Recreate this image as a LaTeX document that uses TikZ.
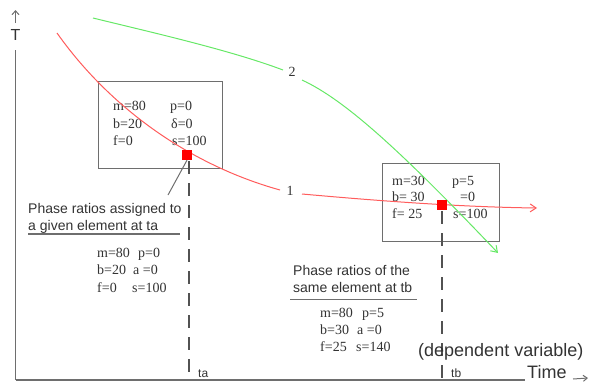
\documentclass[tikz,border=0pt]{standalone}
\usepackage{fontspec}
\setmainfont{Liberation Serif}
\setsansfont{Liberation Sans}
\usetikzlibrary{arrows.meta}
\definecolor{ax}{HTML}{6E6E6E}
\definecolor{txt}{HTML}{333333}
\definecolor{rc}{HTML}{FF5C5C}
\definecolor{gc}{HTML}{66E866}
\tikzset{
  ser/.style={font=\fontsize{14}{17}\selectfont, text=txt, inner sep=0pt, anchor=base west},
  san/.style={font=\sffamily\fontsize{14}{17}\selectfont, text=txt, inner sep=0pt, anchor=base west},
  sanbig/.style={font=\sffamily\fontsize{18}{21}\selectfont, text=txt, inner sep=0pt, anchor=base west},
  sansmall/.style={font=\sffamily\fontsize{12}{14}\selectfont, text=txt, inner sep=0pt, anchor=base west},
  framebox/.style={draw=ax, line width=1.3pt, inner sep=0pt, anchor=north west},
  sq/.style={fill=red, minimum size=10pt, inner sep=0pt},
  dashline/.style={draw=txt!85!white, line width=1.6pt, dash pattern=on 13pt off 9pt},
  axisline/.style={draw=ax, line width=2pt},
  curvered/.style={draw=rc, line width=1pt},
  curvegreen/.style={draw=gc, line width=1pt},
  openarrow/.style={-{Straight Barb[length=6pt,width=8pt]}},
}
\begin{document}
\begin{tikzpicture}[x=1pt,y=-1pt]
\useasboundingbox (0,0) rectangle (589,383);
% axes
\coordinate (o) at (15.5,380);
\coordinate (ytop) at (15.5,50);
\coordinate (xend) at (525,380);
\draw[axisline, line width=1.5pt] (o) -- (ytop);
\draw[axisline] (o) -- (xend);
\node[font=\sffamily\fontsize{16}{18}\selectfont, text=txt, inner sep=0pt] (tlab) at (15.5,35) {T};
\coordinate (ya1) at (15.5,23);
\coordinate (ya2) at (15.5,10);
\draw[ax, line width=1pt, -{Straight Barb[length=4pt,width=7pt]}] (ya1) -- (ya2);
\node[sanbig, text depth=0pt] (time) at (527,378) {Time};
\coordinate (xa1) at (573,379);
\coordinate (xa2) at (588,378);
\draw[ax, line width=1pt, -{Straight Barb[length=4pt,width=6pt]}] (xa1) -- (xa2);
% boxes
\node[framebox, minimum width=124pt, minimum height=87pt] (box1) at (98,81) {};
\node[framebox, minimum width=117pt, minimum height=78pt] (box2) at (382,163) {};
% box 1 text
\node[ser] (b1m) at (113,110) {m=80};
\node[ser] (b1p) at (170,110) {p=0};
\node[ser] (b1b) at (113,128) {b=20};
\node[ser] (b1d) at (171,128) {δ=0};
\node[ser] (b1f) at (113,145) {f=0};
\node[ser] (b1s) at (172,145) {s=100};
% box 2 text
\node[ser] (b2m) at (392,185) {m=30};
\node[ser] (b2p) at (452,185) {p=5};
\node[ser] (b2b) at (392,201.5) {b= 30};
\node[ser] (b2d) at (460,201.5) {=0};
\node[ser] (b2f) at (392,218) {f= 25};
\node[ser] (b2s) at (453,218) {s=100};
% curve 1 (red)
\coordinate (r0) at (57,33);
\coordinate (r1) at (280,190);
\coordinate (r2) at (302,194);
\coordinate (r3) at (537,208);
\draw[curvered] (r0) .. controls (110,108) and (190,165) .. (r1);
\draw[curvered, openarrow] (r2) .. controls (380,201) and (460,207) .. (r3);
\node[ser, anchor=center] (lab1) at (290,191) {1};
% curve 2 (green)
\coordinate (g0) at (93,18);
\coordinate (g1) at (283,70);
\coordinate (g2) at (302,80);
\coordinate (g3) at (498,253);
\draw[curvegreen] (g0) .. controls (150,32) and (230,50) .. (g1);
\draw[curvegreen, openarrow] (g2) .. controls (345,100) and (400,150) .. (g3);
\node[ser, anchor=center] (lab2) at (292,72) {2};
% time marks
\coordinate (da) at (189,161);
\coordinate (ta) at (189,380);
\coordinate (db) at (442,211);
\coordinate (tb) at (442,380);
\draw[dashline] (da) -- (ta);
\draw[dashline] (db) -- (tb);
\node[sansmall] (talab) at (198,377) {ta};
\node[sansmall] (tblab) at (451,377) {tb};
% squares
\node[sq] (sqa) at (187,155) {};
\node[sq] (sqb) at (442,205) {};
% leader
\coordinate (lead) at (168,195);
\draw[ax, line width=1pt] (sqa.south) -- (lead);
% annotation a
\node[san] (pa1) at (28,213) {Phase ratios assigned to};
\node[san] (pa2) at (28,230) {a given element at ta};
\coordinate (ua1) at (28,234);
\coordinate (ua2) at (180,234);
\draw[ax, line width=1.2pt] (ua1) -- (ua2);
\node[ser] (la1) at (97,257) {m=80};
\node[ser] (la2) at (138,257) {p=0};
\node[ser] (la3) at (97,274.5) {b=20};
\node[ser] (la4) at (133,274.5) {a =0};
\node[ser] (la5) at (97,292) {f=0};
\node[ser] (la6) at (132,292) {s=100};
% annotation b
\node[san] (pb1) at (293,275) {Phase ratios of the};
\node[san] (pb2) at (293,292) {same element at tb};
\coordinate (ub1) at (290,299.5);
\coordinate (ub2) at (417,299.5);
\draw[ax, line width=1.2pt] (ub1) -- (ub2);
\node[ser] (lb1) at (320,317) {m=80};
\node[ser] (lb2) at (362,317) {p=5};
\node[ser] (lb3) at (320,334) {b=30};
\node[ser] (lb4) at (357,334) {a =0};
\node[ser] (lb5) at (320,351) {f=25};
\node[ser] (lb6) at (356,351) {s=140};
% dependent variable
\node[sanbig] (dep) at (418,356) {(dependent variable)};
\end{tikzpicture}
\end{document}
